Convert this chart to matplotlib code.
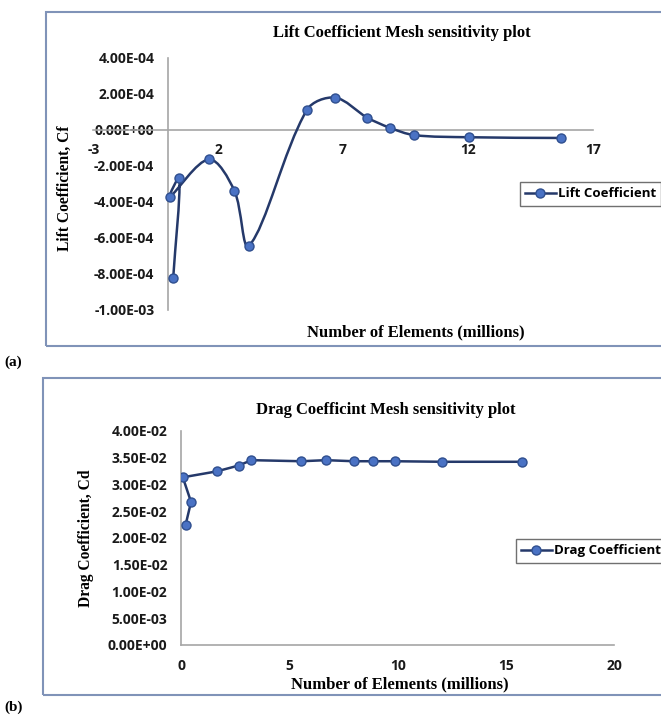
import numpy as np
import matplotlib
matplotlib.use("Agg")
import matplotlib.pyplot as plt
from matplotlib.path import Path
from matplotlib.patches import PathPatch, Rectangle
from matplotlib import font_manager

# data (same mesh order in both plots)
elements = [0.20, 0.45, 0.07, 1.63, 2.65, 3.24, 5.55, 6.68, 7.97, 8.87, 9.85, 12.05, 15.74]
lift = [-8.24e-4, -2.71e-4, -3.73e-4, -1.66e-4, -3.40e-4, -6.46e-4,
        1.08e-4, 1.77e-4, 6.6e-5, 1.0e-5, -3.1e-5, -4.3e-5, -4.7e-5]
drag = [0.02245, 0.0267, 0.0313, 0.0324, 0.0335, 0.0345,
        0.0343, 0.0345, 0.0343, 0.0343, 0.0343, 0.0342, 0.0342]

lift_yticks = [4e-4, 2e-4, 0, -2e-4, -4e-4, -6e-4, -8e-4, -1e-3]
lift_ylabels = ["4.00E-04", "2.00E-04", "0.00E+00", "-2.00E-04", "-4.00E-04",
                "-6.00E-04", "-8.00E-04", "-1.00E-03"]
lift_xticks = [-3, 2, 7, 12, 17]
drag_yticks = [0.04, 0.035, 0.03, 0.025, 0.02, 0.015, 0.01, 0.005, 0]
drag_ylabels = ["4.00E-02", "3.50E-02", "3.00E-02", "2.50E-02", "2.00E-02",
                "1.50E-02", "1.00E-02", "5.00E-03", "0.00E+00"]
drag_xticks = [0, 5, 10, 15, 20]

avail = {f.name for f in font_manager.fontManager.ttflist}
sans = [f for f in ["Liberation Sans Narrow", "Open Sans", "Liberation Sans"] if f in avail][0]
serif = "Liberation Serif"

W, H = 661, 715
fig = plt.figure(figsize=(W / 100, H / 100), dpi=100)

LINE = "#25396a"
FACE = "#4a72c4"
EDGE = "#2f4f8f"
AXC = "#a6a6a6"
FRAME = "#8093b8"


def fx(px):
    return px / W


def fy(py):
    return 1 - py / H


def smooth_path(ax, xs, ys):
    # excel-like smoothed line, worked out in screen space
    tr = ax.transData
    p = tr.transform(np.column_stack([xs, ys]))
    pp = np.vstack([p[0], p, p[-1]])
    d = np.r_[0, np.hypot(*np.diff(pp, axis=0).T), 0]
    verts = [p[0]]
    codes = [Path.MOVETO]
    for i in range(1, len(pp) - 2):
        t0 = pp[i + 1] - pp[i - 1]
        s0 = d[i + 1] / max(d[i] + d[i + 1], 1e-9) / 3
        t1 = pp[i + 2] - pp[i]
        s1 = d[i + 1] / max(d[i + 1] + d[i + 2], 1e-9) / 3
        b1 = pp[i] + t0 * s0
        b2 = pp[i + 1] - t1 * s1
        verts += [b1, b2, pp[i + 1]]
        codes += [Path.CURVE4] * 3
    verts = tr.inverted().transform(np.array(verts))
    return Path(verts, codes)


def style_axes(ax, xticks, yticks, ylabels, xlim, ylim, xpad, ypad):
    ax.set_xlim(*xlim)
    ax.set_ylim(*ylim)
    for s in ["top", "right"]:
        ax.spines[s].set_visible(False)
    ax.spines["left"].set_position(("data", 0))
    ax.spines["bottom"].set_position(("data", 0))
    for s in ["left", "bottom"]:
        ax.spines[s].set_color(AXC)
        ax.spines[s].set_linewidth(1.2)
    ax.set_xticks(xticks)
    ax.set_xticklabels([str(t) for t in xticks])
    ax.set_yticks(yticks)
    ax.set_yticklabels(ylabels)
    ax.tick_params(axis="both", length=0, labelsize=10, colors="#1a1a1a")
    ax.tick_params(axis="x", pad=xpad)
    ax.tick_params(axis="y", pad=ypad)
    for lab in ax.get_xticklabels() + ax.get_yticklabels():
        lab.set_fontfamily(sans)
        lab.set_fontweight("bold")
    ax.patch.set_alpha(0)


# frames round the two charts
fig.patches.append(Rectangle((fx(46), fy(346)), fx(700), fy(12) - fy(346),
                             transform=fig.transFigure, fill=False,
                             edgecolor=FRAME, linewidth=1.5))
fig.patches.append(Rectangle((fx(43), fy(695)), fx(700), fy(378) - fy(695),
                             transform=fig.transFigure, fill=False,
                             edgecolor=FRAME, linewidth=1.5))

mk = dict(marker="o", markersize=6.5, markerfacecolor=FACE, markeredgecolor=EDGE)

# (a) lift
ax1 = fig.add_axes([fx(93.3), fy(309.5), fx(592.7 - 93.3), fy(57.5) - fy(309.5)])
style_axes(ax1, lift_xticks, lift_yticks, lift_ylabels, (-3, 17), (-1e-3, 4e-4), 10, 10)
ax1.add_patch(PathPatch(smooth_path(ax1, elements, lift), fill=False, edgecolor=LINE,
                        linewidth=1.8, zorder=3))
ax1.plot(elements, lift, linestyle="none", zorder=4, **mk)
leg_line1 = ax1.plot([], [], color=LINE, linewidth=1.8, **mk)[0]

fig.text(fx(402), fy(33), "Lift Coefficient Mesh sensitivity plot", ha="center",
         va="center", fontsize=12, fontweight="bold", family=serif)
fig.text(fx(65), fy(188), "Lift Coefficient, Cf", ha="center", va="center",
         rotation=90, fontsize=11.2, fontweight="bold", family=serif)
fig.text(fx(416), fy(332), "Number of Elements (millions)", ha="center",
         va="center", fontsize=12, fontweight="bold", family=serif)
leg1 = ax1.legend([leg_line1], ["Lift Coefficient"], loc="upper left",
                  bbox_to_anchor=(fx(520), fy(182)), bbox_transform=fig.transFigure,
                  fancybox=False, edgecolor="#707070", framealpha=1,
                  prop={"family": sans, "weight": "bold", "size": 9.5},
                  handlelength=2.3, handletextpad=0.15, borderpad=0.4,
                  borderaxespad=0)
leg1.get_frame().set_linewidth(1.0)

# (b) drag
ax2 = fig.add_axes([fx(181.3), fy(645), fx(614.2 - 181.3), fy(430.7) - fy(645)])
style_axes(ax2, drag_xticks, drag_yticks, drag_ylabels, (0, 20), (0, 0.04), 10, 10)
ax2.plot(elements, drag, color=LINE, linewidth=1.8, label="Drag Coefficient",
         zorder=4, **mk)

fig.text(fx(386), fy(410), "Drag Coefficint Mesh sensitivity plot", ha="center",
         va="center", fontsize=12, fontweight="bold", family=serif)
fig.text(fx(86), fy(538), "Drag Coefficient, Cd", ha="center", va="center",
         rotation=90, fontsize=11.2, fontweight="bold", family=serif)
fig.text(fx(400), fy(684), "Number of Elements (millions)", ha="center",
         va="center", fontsize=12, fontweight="bold", family=serif)
leg2 = ax2.legend(loc="upper left", bbox_to_anchor=(fx(516), fy(539)),
                  bbox_transform=fig.transFigure, fancybox=False,
                  edgecolor="#707070", framealpha=1,
                  prop={"family": sans, "weight": "bold", "size": 9.5},
                  handlelength=2.3, handletextpad=0.15, borderpad=0.4,
                  borderaxespad=0)
leg2.get_frame().set_linewidth(1.0)

fig.text(fx(4), fy(362), "(a)", ha="left", va="center", fontsize=11,
         fontweight="bold", family=serif)
fig.text(fx(4), fy(707), "(b)", ha="left", va="center", fontsize=11,
         fontweight="bold", family=serif)

fig.savefig("out.png", dpi=100)
